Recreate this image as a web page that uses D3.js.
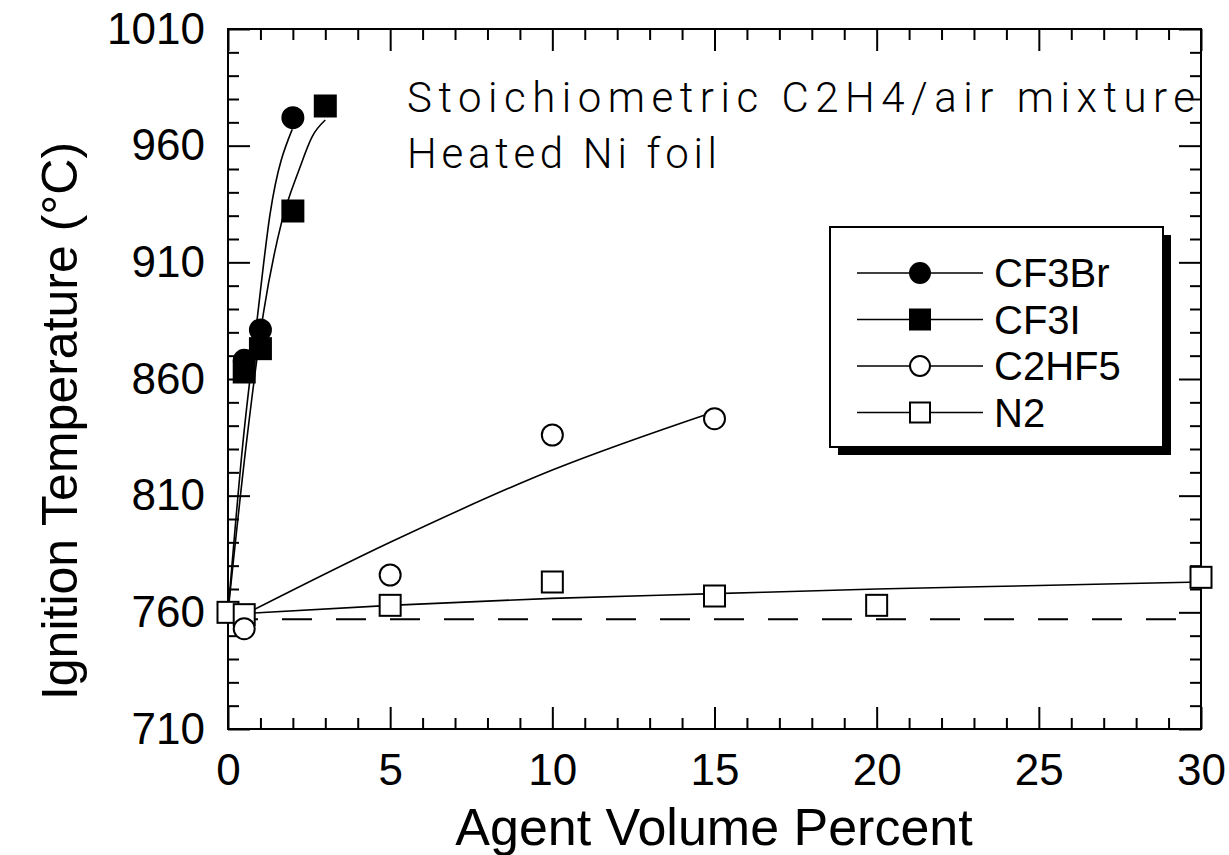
<!DOCTYPE html>
<html>
<head>
<meta charset="utf-8">
<script src="https://cdn.jsdelivr.net/npm/d3@7"></script>
<style>
  body { margin: 0; background: #fff; }
  svg { display: block; }
  .tick text { font-family: "Liberation Sans", Arial, sans-serif; }
</style>
</head>
<body>
<div id="chart"></div>
<script>
// measured points, agent volume % vs ignition temperature (C)
const cf3brX = [0.5, 1, 2];
const cf3brY = [868, 881, 972];
const cf3iX = [0.5, 1, 2, 3];
const cf3iY = [863, 873, 932, 977];
const c2hf5X = [0.5, 5, 10, 15];
const c2hf5Y = [753, 776, 836, 843];
const n2X = [0, 0.5, 5, 10, 15, 20, 30];
const n2Y = [760, 759, 763, 773, 767, 763, 775];

// hand fitted curves
const cf3brFitX = [0, 0.47, 0.885, 1.3, 1.98];
const cf3brFitY = [760, 834, 884, 931, 967];
const cf3iFitX = [0, 0.58, 1.09, 1.65, 2.2, 2.6, 3.0];
const cf3iFitY = [760, 834, 888, 927, 950, 964, 971];
const c2hf5FitX = [0.5, 5, 10, 15];
const c2hf5FitY = [759, 790, 821, 846];
const n2FitX = [0.5, 5, 10, 15, 20, 25, 30];
const n2FitY = [759.5, 763, 766, 768, 770, 771.5, 773];

const baselineTemp = 757;   // dashed reference line

const xMajor = [0, 5, 10, 15, 20, 25, 30];
const xMinor = d3.range(0, 31, 1).filter(d => d % 5 !== 0);
const yMajor = [710, 760, 810, 860, 910, 960, 1010];
const yMinor = d3.range(710, 1011, 10).filter(d => (d - 710) % 50 !== 0);

const legendNames = ['CF3Br', 'CF3I', 'C2HF5', 'N2'];
const legendShapes = ['dot', 'sq', 'odot', 'osq'];

const W = 1229, H = 855;
const margin = { left: 228, right: 28, top: 29, bottom: 126 };
const iw = W - margin.left - margin.right;
const ih = H - margin.top - margin.bottom;

const svg = d3.select('#chart').append('svg')
    .attr('width', W)
    .attr('height', H);

const g = svg.append('g')
    .attr('transform', `translate(${margin.left},${margin.top})`);

const x = d3.scaleLinear().domain([0, 30]).range([0, iw]);
const y = d3.scaleLinear().domain([710, 1010]).range([ih, 0]);

function styleAxis(sel) {
    sel.select('.domain').remove();
    sel.selectAll('.tick line').attr('stroke', '#000').attr('stroke-width', 2);
    sel.selectAll('.tick text')
        .attr('fill', '#000')
        .style('font-size', '44px');
}

// major / minor ticks, all pointing inward on four sides
g.append('g').attr('transform', `translate(0,${ih})`)
    .call(d3.axisBottom(x).tickValues(xMajor).tickSize(-22).tickPadding(25).tickFormat(d3.format('d')))
    .call(styleAxis);
g.append('g').attr('transform', `translate(0,${ih})`)
    .call(d3.axisBottom(x).tickValues(xMinor).tickSize(-11).tickFormat(''))
    .call(styleAxis);
g.append('g')
    .call(d3.axisTop(x).tickValues(xMajor).tickSize(-22).tickFormat(''))
    .call(styleAxis);
g.append('g')
    .call(d3.axisTop(x).tickValues(xMinor).tickSize(-11).tickFormat(''))
    .call(styleAxis);
g.append('g')
    .call(d3.axisLeft(y).tickValues(yMajor).tickSize(-22).tickPadding(23).tickFormat(d3.format('d')))
    .call(styleAxis);
g.append('g')
    .call(d3.axisLeft(y).tickValues(yMinor).tickSize(-11).tickFormat(''))
    .call(styleAxis);
g.append('g').attr('transform', `translate(${iw},0)`)
    .call(d3.axisRight(y).tickValues(yMajor).tickSize(-22).tickFormat(''))
    .call(styleAxis);
g.append('g').attr('transform', `translate(${iw},0)`)
    .call(d3.axisRight(y).tickValues(yMinor).tickSize(-11).tickFormat(''))
    .call(styleAxis);

g.append('rect')
    .attr('width', iw)
    .attr('height', ih)
    .attr('fill', 'none')
    .attr('stroke', '#000')
    .attr('stroke-width', 2);

// dashed reference
g.append('line')
    .attr('x1', x(0)).attr('x2', x(29.5))
    .attr('y1', y(baselineTemp)).attr('y2', y(baselineTemp))
    .attr('stroke', '#000')
    .attr('stroke-width', 2)
    .attr('stroke-dasharray', '30,24');

const line = d3.line()
    .x(d => x(d[0]))
    .y(d => y(d[1]))
    .curve(d3.curveMonotoneX);

const fits = [
    [cf3brFitX, cf3brFitY],
    [cf3iFitX, cf3iFitY],
    [c2hf5FitX, c2hf5FitY],
    [n2FitX, n2FitY]
];
fits.forEach(f => {
    g.append('path')
        .datum(d3.zip(f[0], f[1]))
        .attr('d', line)
        .attr('fill', 'none')
        .attr('stroke', '#000')
        .attr('stroke-width', 1.6);
});

function marker(sel, shape, r) {
    if (shape === 'dot' || shape === 'odot') {
        sel.append('circle').attr('r', r)
            .attr('fill', shape === 'dot' ? '#000' : '#fff')
            .attr('stroke', '#000').attr('stroke-width', 2);
    } else {
        sel.append('rect')
            .attr('x', -r).attr('y', -r)
            .attr('width', 2 * r).attr('height', 2 * r)
            .attr('fill', shape === 'sq' ? '#000' : '#fff')
            .attr('stroke', '#000').attr('stroke-width', 2);
    }
}

const series = [
    [n2X, n2Y, 'osq'],
    [c2hf5X, c2hf5Y, 'odot'],
    [cf3brX, cf3brY, 'dot'],
    [cf3iX, cf3iY, 'sq']
];
series.forEach(s => {
    d3.zip(s[0], s[1]).forEach(p => {
        const m = g.append('g').attr('transform', `translate(${x(p[0])},${y(p[1])})`);
        marker(m, s[2], 10.5);
    });
});

// annotation
const note = g.append('g')
    .style('font-family', 'Roboto, "DejaVu Sans", sans-serif')
    .style('font-weight', 300)
    .style('font-size', '42px')
    .attr('fill', '#000');
note.append('text').attr('x', 407 - margin.left).attr('y', 112 - margin.top)
    .attr('textLength', 788).attr('lengthAdjust', 'spacing')
    .text('Stoichiometric C2H4/air mixture');
note.append('text').attr('x', 407 - margin.left).attr('y', 168 - margin.top)
    .attr('textLength', 310).attr('lengthAdjust', 'spacing')
    .text('Heated Ni foil');

// legend box with drop shadow
const lg = svg.append('g').attr('transform', 'translate(830,227)');
lg.append('rect').attr('x', 8).attr('y', 8).attr('width', 333).attr('height', 220).attr('fill', '#000');
lg.append('rect').attr('width', 333).attr('height', 220)
    .attr('fill', '#fff').attr('stroke', '#000').attr('stroke-width', 2);
legendNames.forEach((name, i) => {
    const row = lg.append('g').attr('transform', `translate(0,${46 + i * 46.5})`);
    row.append('line').attr('x1', 27).attr('x2', 153)
        .attr('stroke', '#000').attr('stroke-width', 1.6);
    marker(row.append('g').attr('transform', 'translate(90,0)'), legendShapes[i], 10);
    row.append('text').attr('x', 164).attr('dy', '0.36em')
        .style('font-family', '"Liberation Sans", Arial, sans-serif')
        .style('font-size', '40px')
        .text(name);
});

// axis titles
svg.append('text')
    .attr('x', 714).attr('y', 845)
    .attr('text-anchor', 'middle')
    .style('font-family', '"Liberation Sans", Arial, sans-serif')
    .style('font-size', '52px')
    .text('Agent Volume Percent');
svg.append('text')
    .attr('transform', 'translate(77,421) rotate(-90)')
    .attr('text-anchor', 'middle')
    .style('font-family', '"Liberation Sans", Arial, sans-serif')
    .style('font-size', '50px')
    .text('Ignition Temperature (°C)');
</script>
</body>
</html>
